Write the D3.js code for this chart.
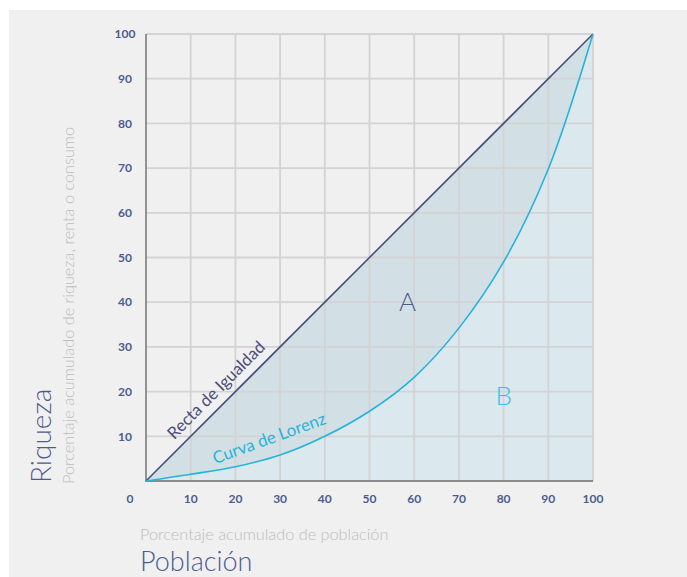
<!DOCTYPE html>
<html>
<head>
<meta charset="utf-8">
<script src="https://cdn.jsdelivr.net/npm/d3@7"></script>
<style>
  body { margin: 0; background: #fff; }
  svg text { font-family: Lato, "Open Sans", sans-serif; }
</style>
</head>
<body>
<div class="box"></div>
<script>
// población acumulada (%) y riqueza acumulada (%)
let popX = [0, 10, 20, 30, 40, 50, 60, 70, 80, 90, 100]
let lorenzY = [0, 1.5, 3.2, 5.8, 10.0, 15.6, 23.2, 34.2, 49.0, 69.8, 100]
let equalY = [0, 100]
let equalX = [0, 100]
let xTicks = [0, 10, 20, 30, 40, 50, 60, 70, 80, 90, 100]
let yTicks = [10, 20, 30, 40, 50, 60, 70, 80, 90, 100]

let W = 687, H = 577
let svg = d3.select('.box').append('svg')
    .attr('width', W).attr('height', H)

svg.append('rect')
    .attr('x', 9).attr('y', 10)
    .attr('width', W - 9).attr('height', H - 10)
    .style('fill', '#f0f0f0')

let x = d3.scaleLinear().domain([0, 100]).range([146, 593])
let y = d3.scaleLinear().domain([0, 100]).range([481, 34])

let lorenz = popX.map((v, i) => [v, lorenzY[i]])
let equal = equalX.map((v, i) => [v, equalY[i]])
let smooth = d3.curveCatmullRom.alpha(0.5)

// zona B (bajo la curva)
let areaB = d3.area()
    .x(d => x(d[0])).y0(y(0)).y1(d => y(d[1]))
    .curve(smooth)
svg.append('path').datum(lorenz)
    .attr('d', areaB)
    .style('fill', '#dbe8ee')

// zona A (entre la recta y la curva)
let areaA = d3.area()
    .x(d => x(d[0])).y0(d => y(d[1])).y1(d => y(d[0]))
    .curve(smooth)
svg.append('path').datum(lorenz)
    .attr('d', areaA)
    .style('fill', '#d2e0e6')

// rejilla
let g = svg.append('g')
g.selectAll('.vx').data(xTicks.slice(1)).enter().append('line')
    .attr('x1', d => x(d)).attr('x2', d => x(d))
    .attr('y1', y(0)).attr('y2', y(100))
    .style('stroke', '#d3d3d3').style('stroke-width', 1.8)
g.selectAll('.hy').data(yTicks).enter().append('line')
    .attr('x1', x(0)).attr('x2', x(100))
    .attr('y1', d => y(d)).attr('y2', d => y(d))
    .style('stroke', '#d3d3d3').style('stroke-width', 1.8)

// ejes
svg.append('line')
    .attr('x1', x(0)).attr('x2', x(0)).attr('y1', y(0) + 1).attr('y2', y(100))
    .style('stroke', '#7c7c7c').style('stroke-width', 1.6)
svg.append('line')
    .attr('x1', x(0)).attr('x2', x(100)).attr('y1', y(0)).attr('y2', y(0))
    .style('stroke', '#8a8a8a').style('stroke-width', 2)

let line = d3.line().x(d => x(d[0])).y(d => y(d[1]))
svg.append('path').datum(equal)
    .attr('d', line)
    .style('fill', 'none').style('stroke', '#4b4e7a').style('stroke-width', 1.6)
svg.append('path').datum(lorenz)
    .attr('d', line.curve(smooth))
    .style('fill', 'none').style('stroke', '#27b2da').style('stroke-width', 1.6)

// etiquetas de ticks
let tickCol = '#4d5c8e'
svg.selectAll('.ty').data(yTicks).enter().append('text')
    .attr('x', 125).attr('y', d => y(d))
    .attr('dy', '0.35em')
    .attr('text-anchor', 'middle')
    .style('font-size', '12px').style('font-weight', 'bold')
    .style('fill', tickCol)
    .text(d => d)
svg.selectAll('.tx').data(xTicks).enter().append('text')
    .attr('x', d => d == 0 ? x(0) - 16 : x(d)).attr('y', 499)
    .attr('dy', '0.35em')
    .attr('text-anchor', 'middle')
    .style('font-size', '12px').style('font-weight', 'bold')
    .style('fill', tickCol)
    .text(d => d)

// títulos de ejes
svg.append('text')
    .attr('transform', 'translate(51,483) rotate(-90)')
    .style('font-size', '28px').style('font-weight', 300).style('fill', '#4d5c8e')
    .text('Riqueza')
svg.append('text')
    .attr('transform', 'translate(74,484) rotate(-90)')
    .style('font-size', '16.3px').style('font-weight', 300).style('fill', '#bdbdbd')
    .text('Porcentaje acumulado de riqueza, renta o consumo')
svg.append('text')
    .attr('x', 140).attr('y', 540)
    .style('font-size', '16.3px').style('font-weight', 300).style('fill', '#bdbdbd')
    .text('Porcentaje acumulado de población')
svg.append('text')
    .attr('x', 140).attr('y', 571)
    .style('font-size', '27px').style('font-weight', 300).style('fill', '#4d5c8e')
    .text('Población')

// anotaciones
svg.append('text')
    .attr('transform', `translate(${x(18)},${y(18)}) rotate(-45)`)
    .attr('y', -9)
    .attr('text-anchor', 'middle')
    .style('font-size', '16.8px').style('fill', '#4b4e7a')
    .text('Recta de Igualdad')
svg.append('text')
    .attr('transform', `translate(${x(29)},${y(5.6)}) rotate(-20)`)
    .attr('y', -13)
    .attr('text-anchor', 'middle')
    .style('font-size', '16.8px').style('fill', '#27b2da')
    .text('Curva de Lorenz')
svg.append('text')
    .attr('x', x(58.5)).attr('y', y(40))
    .attr('dy', '0.35em')
    .attr('text-anchor', 'middle')
    .style('font-size', '26px').style('font-weight', 300).style('fill', '#4d5c8e')
    .text('A')
svg.append('text')
    .attr('x', x(80)).attr('y', y(19))
    .attr('dy', '0.35em')
    .attr('text-anchor', 'middle')
    .style('font-size', '26px').style('font-weight', 300).style('fill', '#3bbde0')
    .text('B')
</script>
</body>
</html>
